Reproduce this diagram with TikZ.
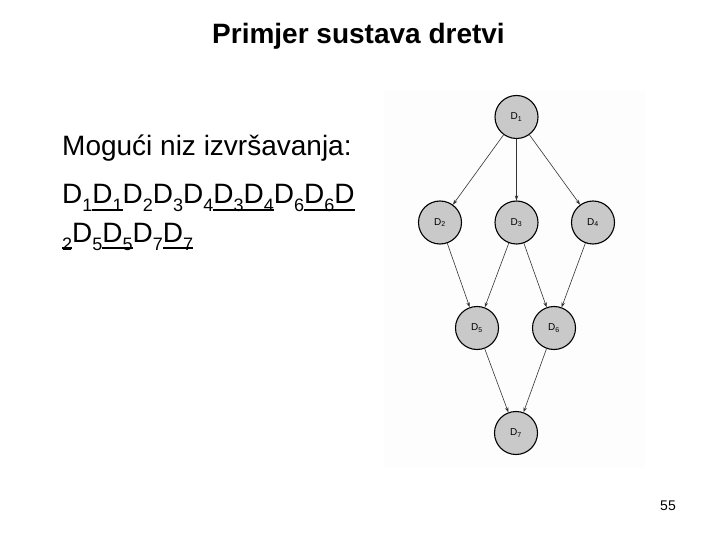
\documentclass[tikz,border=0pt]{standalone}
\usepackage{fontspec}
\setmainfont{Liberation Sans}
\usetikzlibrary{arrows.meta}
\newcommand\sbs[1]{\raisebox{-8pt}{\fontsize{18}{18}\selectfont #1}}
\newcommand\ulx[1]{\setbox0\hbox{#1}\rlap{\rule[-6.8pt]{\wd0}{1.6pt}}\box0}
\tikzset{
  thr/.style={circle, draw=black, line width=1.1pt, fill=gray!42, minimum size=43pt, inner sep=0pt, font=\fontsize{10}{10}\selectfont},
  dep/.style={draw=black!80, line width=0.6pt, -{Stealth[length=5pt,width=3.5pt]}},
  body/.style={anchor=base west, inner sep=0pt, font=\fontsize{28}{28}\selectfont}
}
\begin{document}
\begin{tikzpicture}[x=1pt,y=-1pt]
\useasboundingbox (0,0) rectangle (720,540);
\fill[white] (0,0) rectangle (720,540);
\fill[black!0.6] (384,91) rectangle (645,468);
\node[anchor=base, inner sep=0pt, font=\fontsize{28}{28}\selectfont\bfseries] (title) at (358.5,44) {Primjer sustava dretvi};
\node[body] (l1) at (62,156) {Mogući niz izvršavanja:};
\node[body] (l2) at (62,204) {D\sbs1\ulx{D\sbs1}D\sbs2D\sbs3D\sbs4\ulx{D\sbs3D\sbs4}D\sbs6\ulx{D\sbs6D}};
\node[body] (l3) at (62,242) {\ulx{\sbs2}D\sbs5\ulx{D\sbs5}D\sbs7\ulx{D\sbs7}};
\node[thr] (d1) at (516.5,117) {D\textsubscript{1}};
\node[thr] (d2) at (440,222.5) {D\textsubscript{2}};
\node[thr] (d3) at (516.5,222.5) {D\textsubscript{3}};
\node[thr] (d4) at (593,222.5) {D\textsubscript{4}};
\node[thr] (d5) at (477,328) {D\textsubscript{5}};
\node[thr] (d6) at (554,328) {D\textsubscript{6}};
\node[thr] (d7) at (516,433) {D\textsubscript{7}};
\draw[dep] (d1) -- (d2);
\draw[dep] (d1) -- (d3);
\draw[dep] (d1) -- (d4);
\draw[dep] (d2) -- (d5);
\draw[dep] (d3) -- (d5);
\draw[dep] (d3) -- (d6);
\draw[dep] (d4) -- (d6);
\draw[dep] (d5) -- (d7);
\draw[dep] (d6) -- (d7);
\node[anchor=base, inner sep=0pt, font=\fontsize{14}{14}\selectfont] (pg) at (668,510) {55};
\end{tikzpicture}
\end{document}
